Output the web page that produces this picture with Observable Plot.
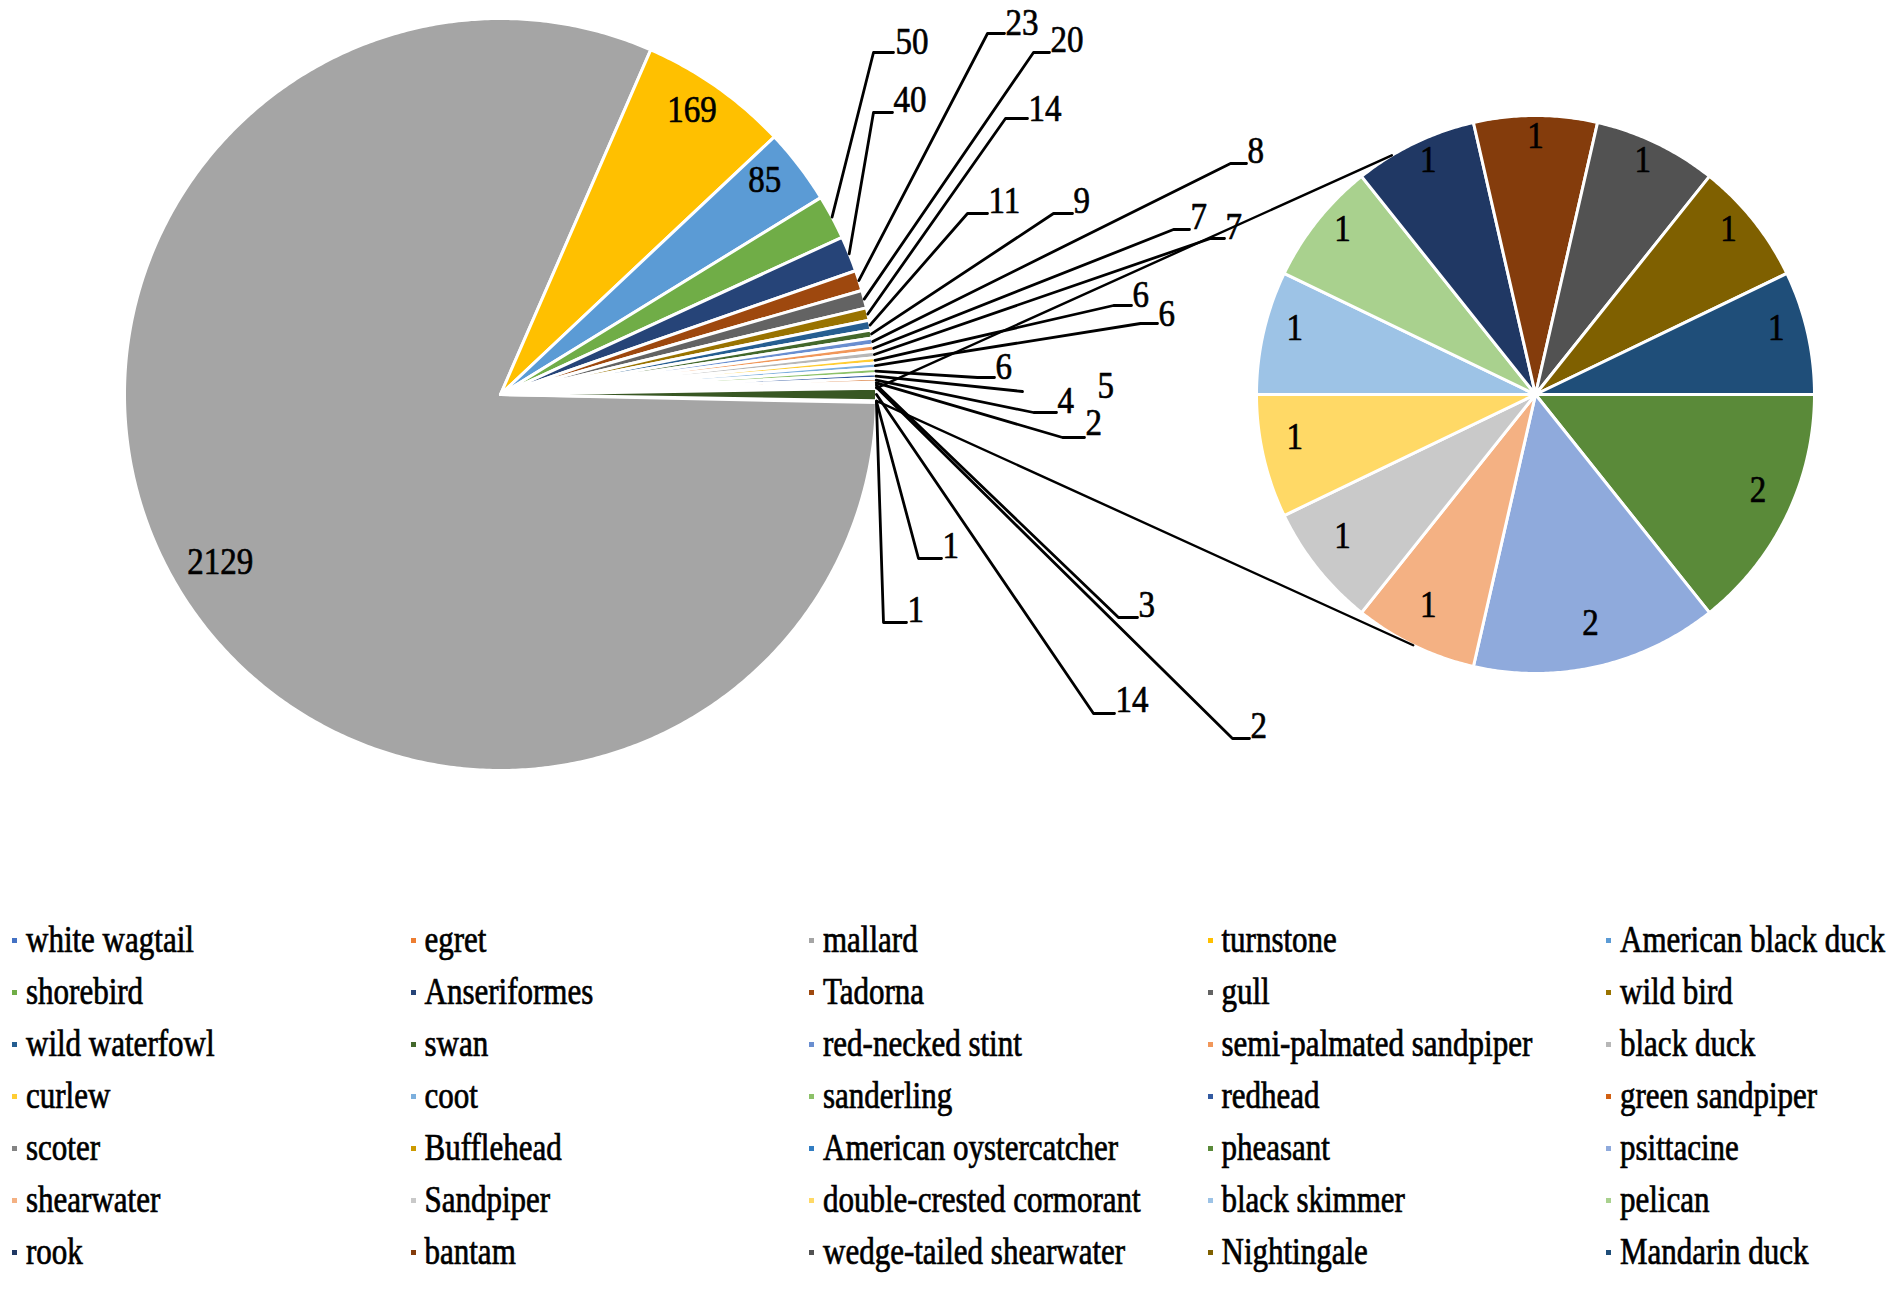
<!DOCTYPE html>
<html><head><meta charset="utf-8">
<script src="https://cdn.jsdelivr.net/npm/d3@7"></script>
<script src="https://cdn.jsdelivr.net/npm/@observablehq/plot@0.6"></script>
<style>
body{margin:0;background:#fff;}
#legend{display:grid;grid-template-columns:repeat(5,398.5px);padding-left:12px;}
.item{height:52px;display:flex;align-items:center;white-space:nowrap;font-family:"Liberation Serif","Times New Roman",serif;font-size:31px;color:#000;-webkit-text-stroke:0.6px #000;}
.sw{width:5px;height:5px;margin-right:9px;flex:none;}
.lbl{display:inline-block;transform:scaleY(1.2);}
</style></head><body>
<div id="chart"></div><div id="legend"></div>
<script>
// ---------------- data ----------------
const categories = ["white wagtail","egret","mallard","turnstone","American black duck",
  "shorebird","Anseriformes","Tadorna","gull","wild bird",
  "wild waterfowl","swan","red-necked stint","semi-palmated sandpiper","black duck",
  "curlew","coot","sanderling","redhead","green sandpiper",
  "scoter","Bufflehead","American oystercatcher","pheasant","psittacine",
  "shearwater","Sandpiper","double-crested cormorant","black skimmer","pelican",
  "rook","bantam","wedge-tailed shearwater","Nightingale","Mandarin duck"];
const counts = [1,1,2129,169,85,
  50,40,23,20,14,
  11,9,8,7,7,
  6,6,6,5,4,
  2,3,2,2,2,
  1,1,1,1,1,
  1,1,1,1,1];
const colors = ["#4472C4","#ED7D31","#A5A5A5","#FFC000","#5B9BD5",
  "#70AD47","#264478","#9E480E","#636363","#997300",
  "#255E91","#43682B","#698ED0","#F1975A","#B7B7B7",
  "#FFCD33","#7CAFDD","#8CC168","#335AA1","#D26012",
  "#848484","#CC9A00","#327DC2","#5A8A39","#8FAADC",
  "#F4B183","#C9C9C9","#FFD966","#9DC3E6","#A9D18E",
  "#203864","#843C0C","#525252","#7F6000","#1F4E79"];
const otherLabel = "Other";
const otherColor = "#385723";
const secondaryCount = 12;

// ---------------- layout ----------------
const W = 1902, H = 914;
const mainPie = {cx: 500, cy: 394, r: 376};
const secPie = {cx: 1535, cy: 394, r: 279};
const labelRadius = 0.885;
const fontSize = 33;
const stretchY = 1.15;
const connectorAngles = [329, 206];
// leader label layout, offsets from main pie centre: [elbowX, elbowY, segmentEndX, textX, textY]
const leaderLayout = {
  "shorebird": [373,-342,393,395,-341],
  "Anseriformes": [373,-282,392,393,-283],
  "Tadorna": [487,-361,504,505,-360],
  "gull": [533,-342,549,550,-343],
  "wild bird": [505,-276,527,528,-274],
  "wild waterfowl": [467,-181,487,488,-182],
  "swan": [553,-181,572,573,-182],
  "red-necked stint": [730,-231,746,747,-232],
  "semi-palmated sandpiper": [673,-165,689,690,-166],
  "black duck": [710,-156,724,725,-156],
  "curlew": [613,-89,631,632,-88],
  "coot": [640,-71,657,658,-69],
  "sanderling": [477,-17,494,495,-16],
  "redhead": [522,-3,522,597,3],
  "green sandpiper": [533,18,556,557,18],
  "scoter": [562,43,584,585,40],
  "Bufflehead": [618,223,637,638,222],
  "American oystercatcher": [732,344,749,750,343],
  "Other": [593,319,614,615,317],
  "white wagtail": [418,164,441,442,163],
  "egret": [383,228,406,407,227]
};

// ---------------- geometry from data ----------------
const nPrimary = categories.length - secondaryCount;
const secIdx = d3.range(nPrimary, categories.length);
const otherValue = d3.sum(secIdx, i => counts[i]);
const primaryTotal = d3.sum(d3.range(nPrimary), i => counts[i]) + otherValue;
const kMain = 360 / primaryTotal;
const slices = [];
let a = 90 + otherValue * kMain / 2;
for (let i = 0; i < nPrimary; i++) {
  const a1 = a + counts[i] * kMain;
  slices.push({id: "p" + i, name: categories[i], value: counts[i], color: colors[i], a0: a, a1, pie: mainPie});
  a = a1;
}
const otherSlice = {id: "pOther", name: otherLabel, value: otherValue, color: otherColor,
  a0: 90 - otherValue * kMain / 2, a1: 90 + otherValue * kMain / 2, pie: mainPie};
slices.push(otherSlice);
const kSec = 360 / otherValue;
let b = 90;
for (const i of secIdx) {
  const b1 = b + counts[i] * kSec;
  slices.push({id: "s" + i, name: categories[i], value: counts[i], color: colors[i], a0: b, a1: b1, pie: secPie});
  b = b1;
}
const pt = (pie, ang, rr) => ({x: pie.cx + rr * Math.sin(ang * Math.PI / 180), y: pie.cy - rr * Math.cos(ang * Math.PI / 180)});

const polys = slices.flatMap(s => {
  const n = Math.max(2, Math.ceil((s.a1 - s.a0) / 0.5) + 1);
  const c = {x: s.pie.cx, y: s.pie.cy};
  const arc = d3.range(n).map(j => pt(s.pie, s.a0 + (s.a1 - s.a0) * j / (n - 1), s.pie.r));
  return [c, ...arc, c].map(p => ({...p, id: s.id, color: s.color}));
});

const insideLabels = slices.filter(s => s.pie === secPie || (s.a1 - s.a0) > 10).map(s => {
  const p = pt(s.pie, (s.a0 + s.a1) / 2, s.pie.r * labelRadius);
  return {...p, text: String(s.value)};
});

const leaderLines = [], leaderTexts = [];
for (const s of slices) {
  const L = leaderLayout[s.name];
  if (!L || s.pie !== mainPie) continue;
  const edge = pt(mainPie, (s.a0 + s.a1) / 2, mainPie.r);
  const cx = mainPie.cx, cy = mainPie.cy;
  leaderLines.push({...edge, id: s.id},
    {x: cx + L[0], y: cy + L[1], id: s.id},
    {x: cx + L[2], y: cy + L[1], id: s.id});
  leaderTexts.push({x: cx + L[3], y: cy + L[4], text: String(s.value)});
}

const connectors = [
  {...pt(mainPie, otherSlice.a0, mainPie.r), id: "c0"}, {...pt(secPie, connectorAngles[0], secPie.r), id: "c0"},
  {...pt(mainPie, otherSlice.a1, mainPie.r), id: "c1"}, {...pt(secPie, connectorAngles[1], secPie.r), id: "c1"}
];

const font = "Liberation Serif, Times New Roman, serif";
const chart = Plot.plot({
  width: W, height: H, margin: 0,
  x: {domain: [0, W], range: [0, W], axis: null},
  y: {domain: [0, H], range: [0, H], axis: null},
  color: {type: "identity"},
  marks: [
    Plot.line(polys, {x: "x", y: "y", z: "id", fill: "color", stroke: "white", strokeWidth: 3, strokeLinejoin: "round"}),
    Plot.line(connectors, {x: "x", y: "y", z: "id", stroke: "black", strokeWidth: 2.4}),
    Plot.line(leaderLines, {x: "x", y: "y", z: "id", stroke: "black", strokeWidth: 2.8}),
    Plot.text(insideLabels, {x: "x", y: "y", text: "text", fontSize, fontFamily: font, fill: "black", stroke: "black", strokeWidth: 0.6, textAnchor: "middle", lineAnchor: "middle"}),
    Plot.text(leaderTexts, {x: "x", y: "y", text: "text", fontSize, fontFamily: font, fill: "black", stroke: "black", strokeWidth: 0.6, textAnchor: "start", lineAnchor: "bottom"})
  ]
});
chart.querySelectorAll("text").forEach(t => {
  const x = +t.getAttribute("x") || 0, y = +t.getAttribute("y") || 0;
  t.removeAttribute("x"); t.removeAttribute("y");
  const tr = t.getAttribute("transform") || "";
  t.setAttribute("transform", `${tr} translate(${x},${y}) scale(1,${stretchY})`);
});
document.getElementById("chart").appendChild(chart);

// ---------------- legend ----------------
const legend = document.getElementById("legend");
categories.forEach((c, i) => {
  const item = document.createElement("div");
  item.className = "item";
  const sw = document.createElement("span");
  sw.className = "sw"; sw.style.background = colors[i];
  const lb = document.createElement("span");
  lb.className = "lbl"; lb.textContent = c;
  item.append(sw, lb);
  legend.appendChild(item);
});
</script>
</body></html>
